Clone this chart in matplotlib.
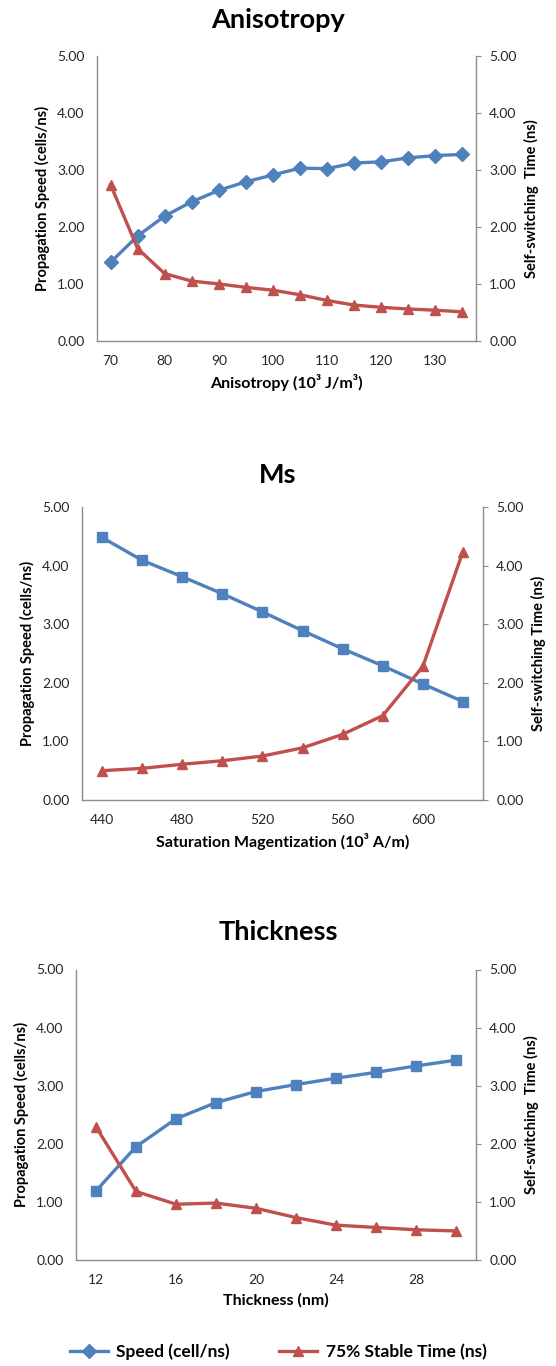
import numpy as np
import matplotlib
matplotlib.use('Agg')
import matplotlib.pyplot as plt
from matplotlib.lines import Line2D

plt.rcParams['font.family'] = ['Lato', 'DejaVu Sans']

# Anisotropy panel
aniso_x = [70, 75, 80, 85, 90, 95, 100, 105, 110, 115, 120, 125, 130, 135]
aniso_speed = [1.38, 1.84, 2.19, 2.44, 2.64, 2.79, 2.91, 3.03, 3.02, 3.12, 3.14, 3.21, 3.25, 3.27]
aniso_time = [2.74, 1.62, 1.18, 1.05, 1.00, 0.94, 0.89, 0.81, 0.71, 0.63, 0.59, 0.56, 0.54, 0.51]

# Ms panel
ms_x = [440, 460, 480, 500, 520, 540, 560, 580, 600, 620]
ms_speed = [4.48, 4.09, 3.81, 3.52, 3.21, 2.89, 2.58, 2.29, 1.98, 1.68]
ms_time = [0.50, 0.54, 0.61, 0.67, 0.75, 0.89, 1.12, 1.44, 2.28, 4.24]

# Thickness panel
th_x = [12, 14, 16, 18, 20, 22, 24, 26, 28, 30]
th_speed = [1.19, 1.95, 2.43, 2.71, 2.90, 3.02, 3.13, 3.23, 3.34, 3.44]
th_time = [2.29, 1.18, 0.96, 0.98, 0.89, 0.73, 0.60, 0.56, 0.52, 0.50]

BLUE = '#4F81BD'
RED = '#C0504D'
AXC = '#8c8c8c'
TXT = '#262626'
W, H = 556, 1366

panels = [
    dict(title='Anisotropy', x=aniso_x, speed=aniso_speed, time=aniso_time,
         xlabel='Anisotropy (10³ J/m³)', rlabel='Self-switching  Time (ns)',
         marker='D', box=(97, 476, 55.7, 341), title_y=20),
    dict(title='Ms', x=ms_x, speed=ms_speed, time=ms_time,
         xlabel='Saturation Magentization (10³ A/m)', rlabel='Self-switching Time (ns)',
         marker='s', box=(82, 483, 507, 800), title_y=475),
    dict(title='Thickness', x=th_x, speed=th_speed, time=th_time,
         xlabel='Thickness (nm)', rlabel='Self-switching  Time (ns)',
         marker='s', box=(76, 476, 969.5, 1260), title_y=932),
]

fig = plt.figure(figsize=(W / 100, H / 100), dpi=100)

for p in panels:
    l, r, t, b = p['box']
    ax = fig.add_axes([l / W, 1 - b / H, (r - l) / W, (b - t) / H])
    ax2 = ax.twinx()
    x = np.array(p['x'])
    step = x[1] - x[0]

    ax.plot(x, p['speed'], color=BLUE, lw=2.4, marker=p['marker'],
            ms=7 if p['marker'] == 'D' else 6.5, zorder=3)
    ax2.plot(x, p['time'], color=RED, lw=2.4, marker='^', ms=7, zorder=3)

    for a in (ax, ax2):
        a.set_ylim(0, 5)
        a.set_yticks(np.arange(0, 5.01, 1))
        a.set_yticklabels([f'{v:.2f}' for v in np.arange(0, 5.01, 1)])
        a.set_xlim(x[0] - step / 2, x[-1] + step / 2)
        for s in a.spines.values():
            s.set_visible(False)
    ax.spines['left'].set_visible(True)
    ax.spines['bottom'].set_visible(True)
    ax2.spines['right'].set_visible(True)
    for s in (ax.spines['left'], ax.spines['bottom'], ax2.spines['right']):
        s.set_color(AXC)
        s.set_linewidth(1.0)

    ax.set_xticks(x[::2])
    ax.tick_params(axis='x', length=0, pad=10, labelsize=10, labelcolor=TXT)
    ax.tick_params(axis='y', length=0, pad=9, labelsize=10, labelcolor=TXT)
    ax2.tick_params(axis='y', length=3.5, direction='out', color=AXC, pad=6,
                    labelsize=10, labelcolor=TXT)

    ax.set_ylabel('Propagation Speed (cells/ns)', fontsize=10.5, fontweight='bold',
                  color='black', labelpad=5)
    ax2.set_ylabel(p['rlabel'], fontsize=10.5, fontweight='bold', color='black',
                   labelpad=5)
    ax.set_xlabel(p['xlabel'], fontsize=11.5, fontweight='bold', color='black',
                  labelpad=5)
    fig.text(0.5, 1 - p['title_y'] / H, p['title'], ha='center', va='center',
             fontsize=19.5, fontweight='bold', color='black')

handles = [
    Line2D([], [], color=BLUE, lw=2.4, marker='D', ms=7),
    Line2D([], [], color=RED, lw=2.4, marker='^', ms=7),
]
fig.legend(handles, ['Speed (cell/ns)', '75% Stable Time (ns)'], loc='center',
           bbox_to_anchor=(0.5, 1 - 1352 / H), ncol=2, frameon=False,
           prop={'weight': 'bold', 'size': 12.5}, handlelength=2.2,
           columnspacing=2.8, handletextpad=0.5)

fig.savefig('out.png', dpi=100)
